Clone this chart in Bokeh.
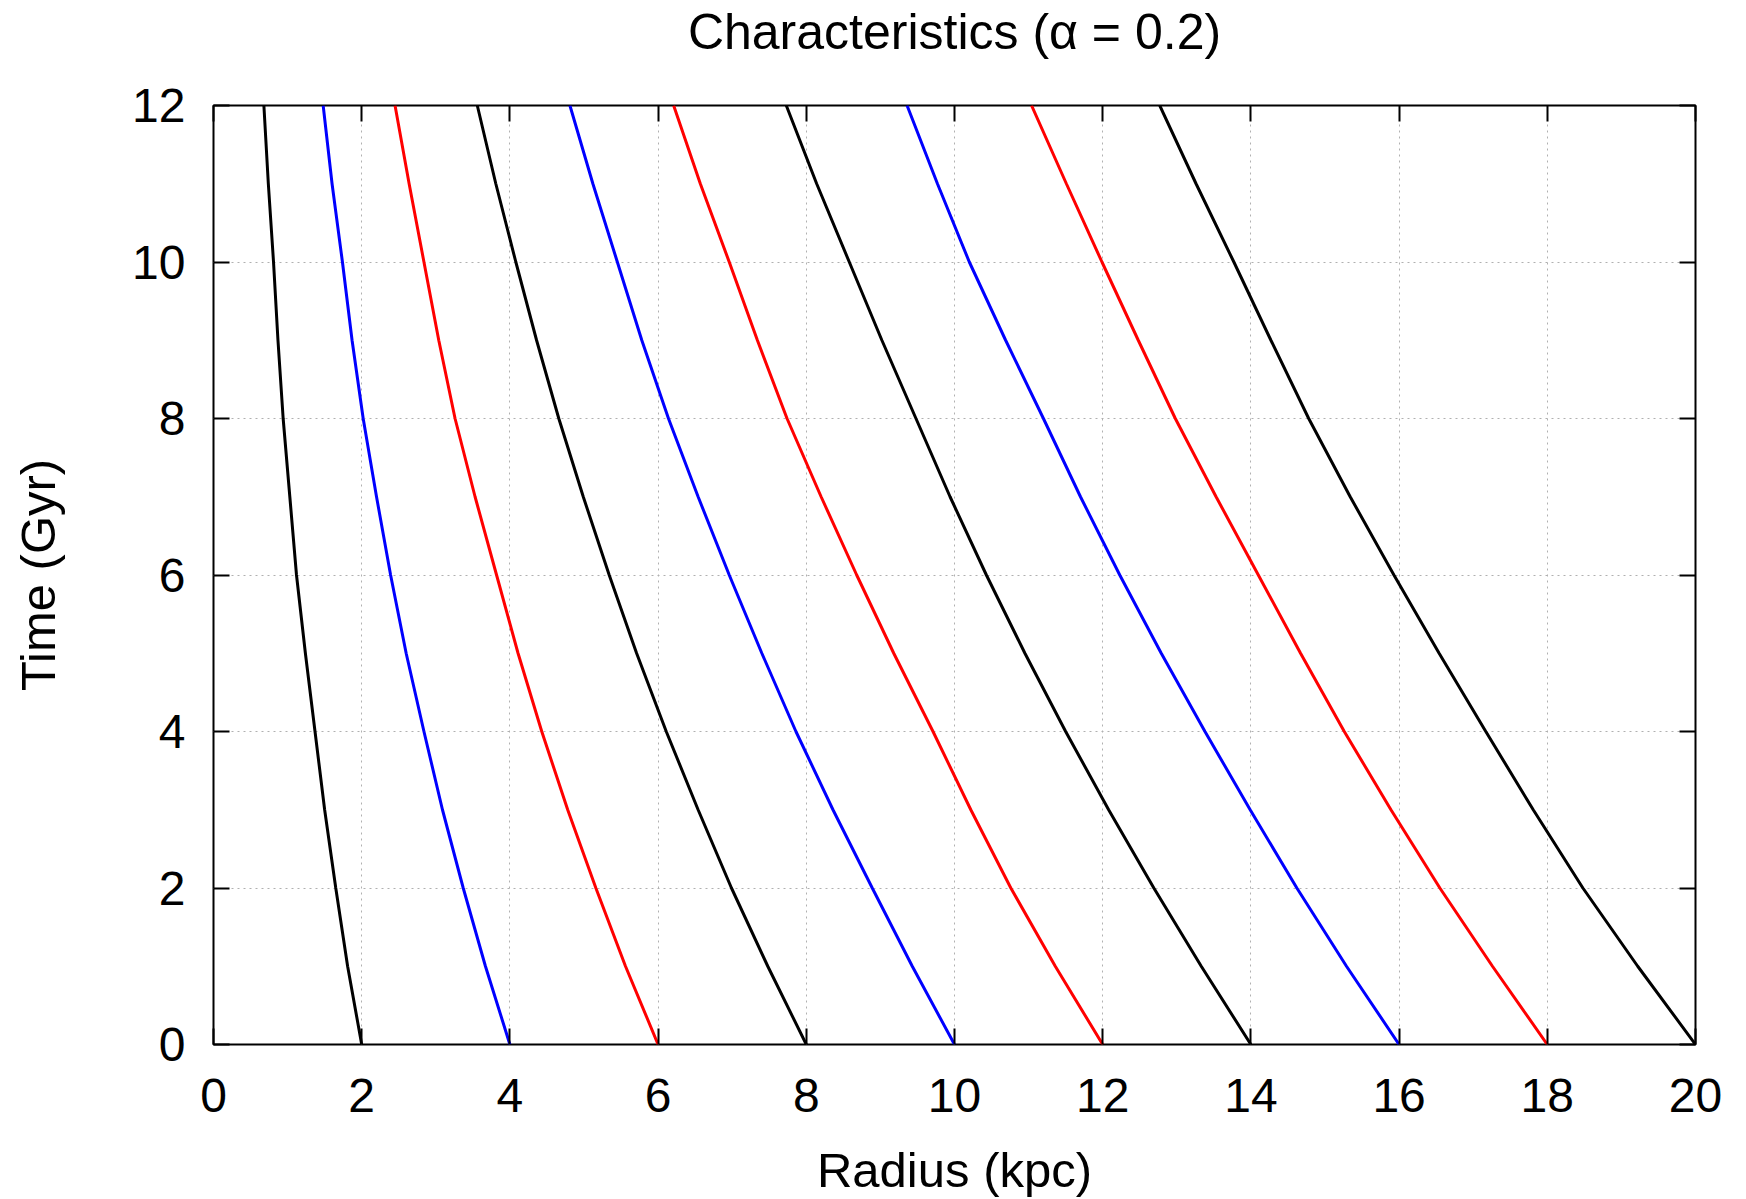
from bokeh.plotting import figure
from bokeh.models import Range1d, LinearAxis, FixedTicker
from bokeh.embed import file_html
from bokeh.resources import INLINE

# Time samples (Gyr)
time_gyr = [0, 1, 2, 3, 4, 5, 6, 7, 8, 9, 10, 11, 12]

# Radius (kpc) of each characteristic at the times above
r_start_2 = [2.00, 1.81, 1.65, 1.50, 1.37, 1.24, 1.12, 1.03, 0.94, 0.87, 0.81, 0.74, 0.68]
r_start_4 = [4.00, 3.67, 3.37, 3.09, 2.84, 2.60, 2.39, 2.20, 2.02, 1.87, 1.74, 1.60, 1.48]
r_start_6 = [6.00, 5.56, 5.16, 4.78, 4.43, 4.11, 3.82, 3.53, 3.26, 3.04, 2.84, 2.64, 2.45]
r_start_8 = [8.00, 7.48, 6.99, 6.54, 6.11, 5.71, 5.34, 4.99, 4.66, 4.36, 4.08, 3.81, 3.56]
r_start_10 = [10.00, 9.43, 8.89, 8.36, 7.86, 7.40, 6.96, 6.54, 6.14, 5.78, 5.45, 5.12, 4.81]
r_start_12 = [12.00, 11.36, 10.76, 10.22, 9.71, 9.18, 8.68, 8.20, 7.74, 7.34, 6.96, 6.57, 6.21]
r_start_14 = [14.00, 13.33, 12.69, 12.08, 11.50, 10.95, 10.43, 9.94, 9.48, 9.02, 8.58, 8.14, 7.73]
r_start_16 = [16.00, 15.29, 14.62, 13.99, 13.38, 12.79, 12.23, 11.70, 11.20, 10.69, 10.20, 9.77, 9.36]
r_start_18 = [18.00, 17.26, 16.55, 15.89, 15.26, 14.67, 14.10, 13.53, 12.98, 12.48, 11.99, 11.51, 11.04]
r_start_20 = [20.00, 19.22, 18.48, 17.81, 17.17, 16.54, 15.93, 15.34, 14.78, 14.27, 13.77, 13.26, 12.77]

curves = [r_start_2, r_start_4, r_start_6, r_start_8, r_start_10,
          r_start_12, r_start_14, r_start_16, r_start_18, r_start_20]
curve_colors = ["black", "#0000ff", "#ff0000"] * 4

x_ticks = [0, 2, 4, 6, 8, 10, 12, 14, 16, 18, 20]
y_ticks = [0, 2, 4, 6, 8, 10, 12]

title_text = "Characteristics (\u03b1 = 0.2)"

FONT = "Liberation Sans"
TICK_FS = "48px"
LABEL_FS = "49px"
TITLE_FS = "50px"

p = figure(width=1746, height=1199, output_backend="svg", toolbar_location=None,
           x_range=Range1d(0, 20), y_range=Range1d(0, 12),
           min_border_left=213, min_border_right=51, min_border_top=105, min_border_bottom=154)

p.outline_line_color = "black"
p.outline_line_width = 2
p.outline_line_alpha = 1.0

for ax in [p.xaxis[0], p.yaxis[0]]:
    ax.major_label_text_font = FONT
    ax.major_label_text_font_size = TICK_FS
    ax.major_label_text_color = "black"
    ax.axis_label_text_font = FONT
    ax.axis_label_text_font_size = LABEL_FS
    ax.axis_label_text_font_style = "normal"
    ax.axis_label_text_color = "black"
    ax.major_tick_in = 16
    ax.major_tick_out = 0
    ax.minor_tick_in = 0
    ax.minor_tick_out = 0
    ax.major_tick_line_width = 2
    ax.axis_line_color = None

p.xaxis[0].ticker = FixedTicker(ticks=x_ticks)
p.yaxis[0].ticker = FixedTicker(ticks=y_ticks)
p.xaxis[0].axis_label = "Radius (kpc)"
p.yaxis[0].axis_label = "Time (Gyr)"
p.xaxis[0].major_label_standoff = 34
p.yaxis[0].major_label_standoff = 28
p.xaxis[0].axis_label_standoff = 28
p.yaxis[0].axis_label_standoff = 64

# mirrored ticks on the top and right edges (gnuplot style); the top axis carries the title
top_ax = LinearAxis(ticker=FixedTicker(ticks=x_ticks),
                    major_label_overrides={t: "" for t in x_ticks})
right_ax = LinearAxis(ticker=FixedTicker(ticks=y_ticks),
                      major_label_overrides={t: "" for t in y_ticks})
for ax in [top_ax, right_ax]:
    ax.major_tick_in = 16
    ax.major_tick_out = 0
    ax.minor_tick_in = 0
    ax.minor_tick_out = 0
    ax.major_tick_line_width = 2
    ax.axis_line_color = None
    ax.major_label_standoff = 0
top_ax.axis_label = title_text
top_ax.axis_label_text_font = FONT
top_ax.axis_label_text_font_size = TITLE_FS
top_ax.axis_label_text_font_style = "normal"
top_ax.axis_label_text_color = "black"
top_ax.axis_label_standoff = 46
p.add_layout(top_ax, "above")
p.add_layout(right_ax, "right")

p.xgrid.ticker = FixedTicker(ticks=x_ticks)
p.ygrid.ticker = FixedTicker(ticks=y_ticks)
for g in [p.xgrid[0], p.ygrid[0]]:
    g.grid_line_color = "#b0b0b0"
    g.grid_line_dash = "2 4"
    g.grid_line_width = 1

for r_vals, col in zip(curves, curve_colors):
    p.line(r_vals, time_gyr, line_color=col, line_width=3)

open("out.html", "w").write(file_html(p, INLINE))
